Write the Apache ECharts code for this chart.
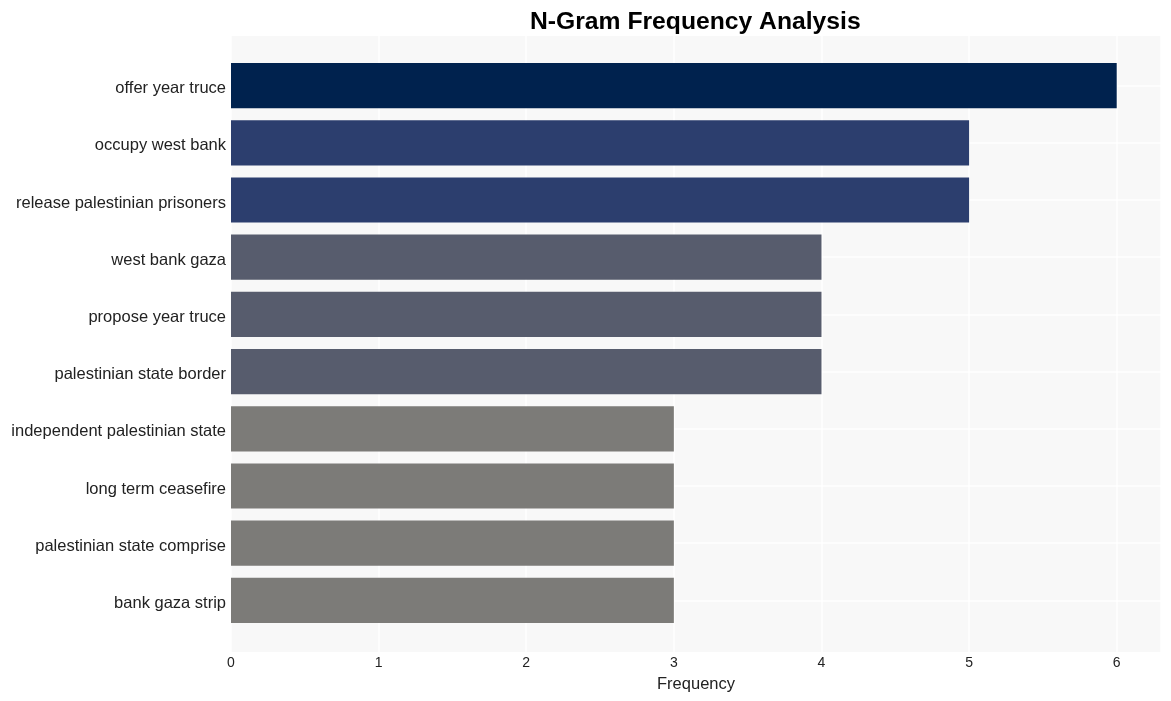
<!DOCTYPE html>
<html>
<head>
<meta charset="utf-8">
<script src="https://cdn.jsdelivr.net/npm/echarts@6/dist/echarts.min.js"></script>
<style>html,body{margin:0;padding:0;background:#fff}#c{width:1171px;height:701px}</style>
</head>
<body>
<div id="c"></div>
<script>
const categories = ["offer year truce","occupy west bank","release palestinian prisoners","west bank gaza","propose year truce","palestinian state border","independent palestinian state","long term ceasefire","palestinian state comprise","bank gaza strip"];
const values = [6,5,5,4,4,4,3,3,3,3];
const colorByValue = {6:"#00224e",5:"#2c3e6e",4:"#575c6d",3:"#7c7b78"};
const xTicks = [0,1,2,3,4,5,6];

const centerGrid = Array.from({length: categories.length*2+1}, (_, i) => String(i));
const FONT = "Liberation Sans, Arial, sans-serif";

const chart = echarts.init(document.getElementById('c'));
chart.setOption({
  animation: false,
  title: {
    text: "N-Gram Frequency Analysis",
    left: 525, top: 5,
    textStyle: {fontFamily: FONT, fontSize: 24.7, fontWeight: 'bold', color: '#000'}
  },
  grid: [
    {left: 231, right: 10, top: 36, bottom: 49, show: true, backgroundColor: '#f8f8f8', borderWidth: 0, outerBoundsMode: 'none', containLabel: false},
    {left: 231, right: 10, top: 57, bottom: 72, show: false, outerBoundsMode: 'none', containLabel: false}
  ],
  xAxis: [{
    gridIndex: 0, type: 'value', min: 0, max: 6.3, interval: 1,
    axisLine: {show: false}, axisTick: {show: false}, axisLabel: {show: false},
    splitLine: {show: true, lineStyle: {color: '#ffffff', width: 1.5}}
  }, {
    gridIndex: 1, type: 'value', min: 0, max: 6.3, interval: 1,
    name: 'Frequency', nameLocation: 'middle', nameGap: 47,
    nameTextStyle: {fontFamily: FONT, fontSize: 16.5, color: '#222'},
    axisLine: {show: false}, axisTick: {show: false},
    axisLabel: {fontFamily: FONT, fontSize: 14, color: '#222', margin: 27,
      formatter: v => xTicks.includes(v) ? String(v) : ''},
    splitLine: {show: false}
  }],
  yAxis: [{
    gridIndex: 1, type: 'category', data: categories, inverse: true,
    axisLine: {show: false}, axisTick: {show: false},
    axisLabel: {
      margin: 5,
      formatter: v => '{a|' + v + '}',
      rich: {a: {fontFamily: FONT, fontSize: 16.5, color: '#222', padding: [6, 0, 0, 0]}}
    },
    splitLine: {show: false}
  }, {
    gridIndex: 1, type: 'category', data: centerGrid, boundaryGap: false, position: 'left',
    axisLine: {show: false}, axisTick: {show: false}, axisLabel: {show: false},
    splitLine: {show: true, interval: (i) => i % 2 === 1, lineStyle: {color: '#ffffff', width: 1.5}}
  }, {
    gridIndex: 0, type: 'value', min: 0, max: 1, show: false,
    splitLine: {show: false}
  }],
  series: [{
    type: 'bar', xAxisIndex: 1, yAxisIndex: 0,
    data: values.map(v => ({value: v, itemStyle: {color: colorByValue[v]}})),
    barCategoryGap: '21%'
  }]
});
</script>
</body>
</html>
